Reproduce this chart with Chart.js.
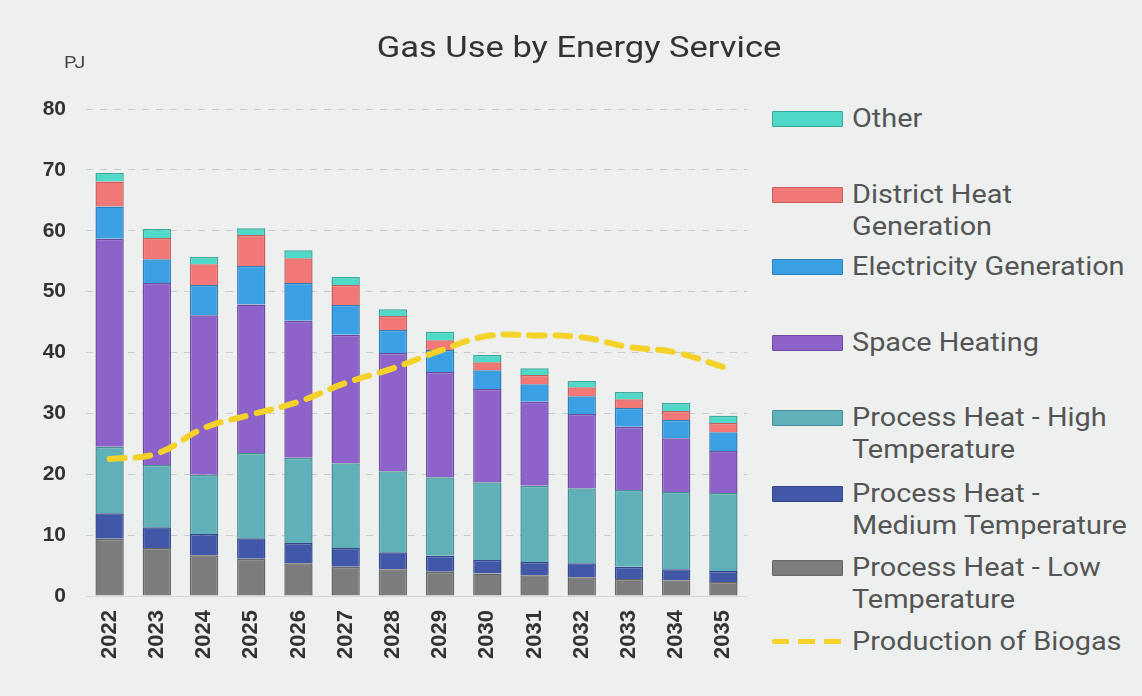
<!DOCTYPE html>
<html>
<head>
<meta charset="utf-8">
<script src="https://cdn.jsdelivr.net/npm/chart.js@4"></script>
<style>
  html, body { margin: 0; padding: 0; background: #edf0ef; }
  #wrap { position: relative; width: 1142px; height: 696px; background: #edf0ef; overflow: hidden; }
  #chartBox { position: absolute; left: 0; top: 0; width: 760px; height: 696px; }
  #title { position: absolute; left: 279px; width: 600px; top: 29px; text-align: center;
           font: 30px Roboto, sans-serif; color: #333; transform: scaleX(1.15); }
  #unit { position: absolute; left: 64px; top: 52px; font: 17px Roboto, sans-serif; color: #444; transform: scaleX(1.15); transform-origin: left; }
  .leg { position: absolute; left: 772px; font: 25px Roboto, sans-serif; color: #555; line-height: 32px; }
  .leg .sw { position: absolute; left: 0; top: 8px; width: 69px; height: 14px; border: 1.5px solid; border-radius: 1px; }
  .leg .tx { margin-left: 80px; white-space: nowrap; transform: scaleX(1.155); transform-origin: left; }
  .leg .dash { position: absolute; left: 0; top: 13px; width: 70px; height: 5px; border-radius: 2px;
               background: repeating-linear-gradient(to right, #f5d22a 0 17px, transparent 17px 26px); }
</style>
</head>
<body>
<div id="wrap">
  <div id="chartBox"><canvas id="gasChart" width="760" height="696"></canvas></div>
  <div id="title">Gas Use by Energy Service</div>
  <div id="unit">PJ</div>
  <div id="legend"></div>
</div>
<script>
// Categories and values (PJ)
const years = ['2022', '2023', '2024', '2025', '2026', '2027', '2028', '2029', '2030', '2031', '2032', '2033', '2034', '2035'];

const processLow = [9.4, 7.9, 6.7, 6.1, 5.4, 4.8, 4.4, 4.0, 3.7, 3.4, 3.1, 2.8, 2.6, 2.3];
const processMedium = [4.2, 3.4, 3.5, 3.4, 3.3, 3.1, 2.8, 2.6, 2.2, 2.2, 2.3, 2.0, 1.8, 1.8];
const processHigh = [10.9, 10.2, 9.7, 14.0, 14.0, 13.9, 13.3, 12.9, 12.8, 12.5, 12.3, 12.6, 12.7, 12.8];
const spaceHeating = [34.2, 29.9, 26.2, 24.4, 22.5, 21.1, 19.4, 17.3, 15.3, 13.8, 12.2, 10.4, 8.8, 6.9];
const electricityGen = [5.3, 3.9, 5.0, 6.3, 6.2, 4.9, 3.8, 3.6, 3.1, 2.9, 2.9, 3.1, 3.0, 3.1];
const districtHeat = [4.1, 3.5, 3.4, 5.1, 4.1, 3.3, 2.3, 1.6, 1.3, 1.5, 1.5, 1.4, 1.5, 1.5];
const otherUse = [1.4, 1.5, 1.2, 1.1, 1.3, 1.3, 1.1, 1.4, 1.2, 1.1, 1.0, 1.2, 1.3, 1.2];
const biogas = [22.5, 23.4, 27.6, 29.8, 31.9, 35.0, 37.4, 40.3, 42.7, 42.8, 42.5, 40.9, 40.0, 37.6];

const yTicks = [0, 10, 20, 30, 40, 50, 60, 70, 80];

const series = [
    { label: 'Process Heat - Low Temperature', lines: ['Process Heat - Low', 'Temperature'], data: processLow, fill: '#7c7c7c', border: '#666666' },
    { label: 'Process Heat - Medium Temperature', lines: ['Process Heat -', 'Medium Temperature'], data: processMedium, fill: '#4158a8', border: '#33478a' },
    { label: 'Process Heat - High Temperature', lines: ['Process Heat - High', 'Temperature'], data: processHigh, fill: '#5fb0b8', border: '#4a8f96' },
    { label: 'Space Heating', lines: ['Space Heating'], data: spaceHeating, fill: '#8d62c9', border: '#6e4aa3' },
    { label: 'Electricity Generation', lines: ['Electricity Generation'], data: electricityGen, fill: '#3b9fe3', border: '#2d7fb8' },
    { label: 'District Heat Generation', lines: ['District Heat', 'Generation'], data: districtHeat, fill: '#f27777', border: '#c85d5d' },
    { label: 'Other', lines: ['Other'], data: otherUse, fill: '#4fd9c9', border: '#3aa99c' }
];

const datasets = series.map(s => ({
    type: 'bar',
    label: s.label,
    data: s.data,
    backgroundColor: s.fill,
    borderColor: s.border,
    borderWidth: 1.5,
    barPercentage: 0.6,
    categoryPercentage: 1.0,
    stack: 'gas',
    order: 1
}));

datasets.push({
    type: 'line',
    label: 'Production of Biogas',
    data: biogas,
    borderColor: '#f5d22a',
    borderWidth: 6,
    borderDash: [15, 11],
    borderCapStyle: 'round',
    pointRadius: 0,
    tension: 0.4,
    fill: false,
    order: 0
});

const ctx = document.getElementById('gasChart').getContext('2d');
const gasChart = new Chart(ctx, {
    type: 'bar',
    data: { labels: years, datasets: datasets },
    options: {
        responsive: false,
        animation: false,
        layout: { padding: { top: 109, right: 13, bottom: 0, left: 0 } },
        plugins: {
            legend: { display: false },
            tooltip: { enabled: false }
        },
        scales: {
            x: {
                stacked: true,
                grid: { display: false },
                border: { display: true, color: '#d4d7d6', width: 1 },
                ticks: {
                    color: '#333',
                    font: { family: 'Liberation Sans', size: 22, weight: 'bold' },
                    minRotation: 90,
                    maxRotation: 90,
                    padding: 6
                },
                afterFit: scale => { scale.height = 100; }
            },
            y: {
                stacked: true,
                min: 0,
                max: 80,
                afterBuildTicks: scale => { scale.ticks = yTicks.map(v => ({ value: v })); },
                grid: {
                    color: '#c9cccb',
                    lineWidth: 1,
                    drawTicks: false
                },
                border: { display: false, dash: [7, 7] },
                ticks: {
                    color: '#333',
                    font: { family: 'Liberation Sans', size: 21, weight: 'bold' },
                    padding: 20
                },
                afterFit: scale => { scale.width = 86; }
            }
        }
    }
});

// HTML legend, top to bottom
const legendTops = [103, 179, 251, 327, 402, 478, 552, 626];
const legendEl = document.getElementById('legend');
const legendItems = series.slice().reverse();
legendItems.forEach((s, i) => {
    const div = document.createElement('div');
    div.className = 'leg';
    div.style.top = legendTops[i] + 'px';
    div.innerHTML = `<div class="sw" style="background:${s.fill};border-color:${s.border}"></div>` +
        `<div class="tx">${s.lines.join('<br>')}</div>`;
    legendEl.appendChild(div);
});
const bio = document.createElement('div');
bio.className = 'leg';
bio.style.top = legendTops[7] + 'px';
bio.innerHTML = '<div class="dash"></div><div class="tx">Production of Biogas</div>';
legendEl.appendChild(bio);
</script>
</body>
</html>
